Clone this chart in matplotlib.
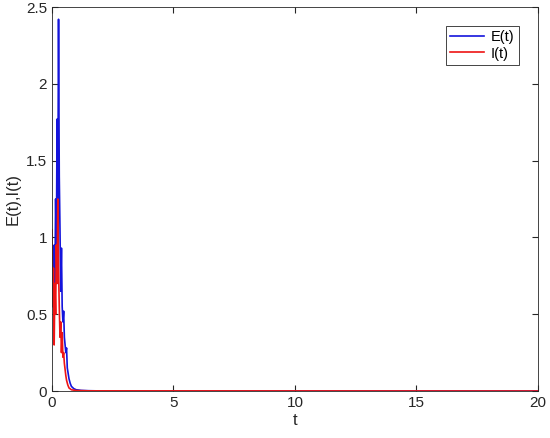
import numpy as np
from matplotlib import pyplot as plt

plt.rcParams["font.family"] = ["Liberation Sans", "DejaVu Sans"]

# valeurs
t_E = [0.00, 0.03, 0.06, 0.09, 0.12, 0.15, 0.18, 0.21, 0.24, 0.27, 0.30, 0.33,
       0.36, 0.39, 0.42, 0.45, 0.48, 0.51, 0.54, 0.57, 0.60, 0.63, 0.66, 0.70,
       0.75, 0.80, 0.90, 1.00, 1.20, 1.50, 2.00, 20.0]
E = [0.55, 0.82, 0.60, 0.95, 0.70, 1.25, 0.90, 1.77, 1.20, 2.42, 1.40, 1.05,
     0.65, 0.93, 0.55, 0.45, 0.52, 0.35, 0.30, 0.25, 0.28, 0.15, 0.12, 0.08,
     0.05, 0.03, 0.015, 0.008, 0.004, 0.002, 0.0005, 0.0]

t_I = [0.00, 0.03, 0.06, 0.09, 0.12, 0.15, 0.18, 0.21, 0.24, 0.27, 0.30, 0.33,
       0.36, 0.39, 0.42, 0.45, 0.48, 0.51, 0.54, 0.57, 0.60, 0.65, 0.70, 0.80,
       1.00, 1.50, 20.0]
I = [1.05, 0.55, 0.80, 0.30, 0.70, 0.50, 0.95, 0.70, 1.25, 0.80, 0.55, 0.35,
     0.45, 0.25, 0.38, 0.22, 0.25, 0.18, 0.14, 0.10, 0.07, 0.04, 0.02, 0.008,
     0.003, 0.001, 0.0]

x_ticks = [0, 5, 10, 15, 20]
y_ticks = [0, 0.5, 1, 1.5, 2, 2.5]
y_labels = ["0", "0.5", "1", "1.5", "2", "2.5"]

fig = plt.figure(figsize=(5.5, 4.38), dpi=100)
ax = fig.add_axes([0.0945, 0.1073, 0.8836, 0.8767])

ax.plot(t_E, E, color="#1414dc", lw=1.2, label="E(t)")
ax.plot(t_I, I, color="#ee1414", lw=1.2, label="I(t)")

ax.set_xlim(0, 20)
ax.set_ylim(0, 2.5)
ax.set_xticks(x_ticks)
ax.set_yticks(y_ticks)
ax.set_yticklabels(y_labels)
ax.tick_params(direction="in", length=4, labelsize=11, colors="#262626",
               top=True, right=True)
for s in ax.spines.values():
    s.set_color("#262626")
    s.set_linewidth(0.6)

ax.set_xlabel("t", fontsize=12, color="#262626", labelpad=2)
ax.set_ylabel("E(t),I(t)", fontsize=12, color="#262626", labelpad=4)

leg = ax.legend(loc="upper right", fontsize=10.5, fancybox=False,
                edgecolor="#262626", framealpha=1, handlelength=2.3,
                borderaxespad=1.3, borderpad=0.3, labelspacing=0.15,
                handletextpad=0.5)
leg.get_frame().set_linewidth(0.6)

fig.savefig("out.png", dpi=100)
